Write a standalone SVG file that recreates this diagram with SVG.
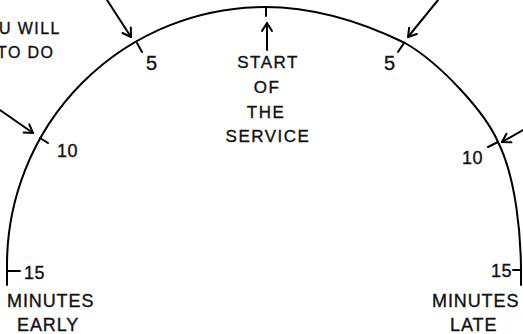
<svg xmlns="http://www.w3.org/2000/svg" width="523" height="334" viewBox="0 0 523 334">
<style>
.ln{fill:none;stroke:#000;stroke-width:2;stroke-linecap:round;stroke-linejoin:round}
.t{font-family:"Liberation Sans","DejaVu Sans",sans-serif;font-size:17px;letter-spacing:1.5px;fill:#111;stroke:#111;stroke-width:0.35}
.b{font-size:18px;letter-spacing:0.9px}
.s{font-size:16px;letter-spacing:1.4px}
.n{font-size:18px;letter-spacing:0.5px}
.f{font-size:20px}
.m{text-anchor:middle}
.e{text-anchor:end}
</style>
<defs>
<marker id="ah" viewBox="-10 -7 12 14" markerWidth="12" markerHeight="14" refX="0" refY="0" orient="auto" markerUnits="userSpaceOnUse">
<path d="M -8 -5 L 0 0 L -8 5" fill="none" stroke="#000" stroke-width="2" stroke-linecap="round" stroke-linejoin="round"/>
</marker>
</defs>
<rect width="523" height="334" fill="#fff"/>
<g id="gauge">
<path class="ln" d="M 7 285 L 7 265 A 258 258 0 0 1 265 7 C 315 7 362 22 405 43 C 440 63 485 112 498 142 C 516 178 521 235 521 272 L 521 285"/>
</g>
<g id="tick-start"><path class="ln" d="M 266 7 L 266 16"/></g>
<g id="tick-early-5"><path class="ln" d="M 137 43 L 142 52"/><text class="t n f" x="146" y="70">5</text></g>
<g id="tick-late-5"><path class="ln" d="M 404 43 L 398 52"/><text class="t n f" x="384" y="70">5</text></g>
<g id="tick-early-10"><path class="ln" d="M 40 138 L 48 143"/><text class="t n" x="57" y="157">10</text></g>
<g id="tick-late-10"><path class="ln" d="M 498 142 L 488 147"/><text class="t n" x="462" y="164">10</text></g>
<g id="tick-early-15"><path class="ln" d="M 7 271 L 20 271"/><text class="t n" x="24" y="279">15</text></g>
<g id="tick-late-15"><path class="ln" d="M 521 270 L 513 270"/><text class="t n e" x="512" y="277">15</text></g>
<g id="label-start">
<text class="t m" x="268" y="68">START</text>
<text class="t m" x="267" y="93">OF</text>
<text class="t m" x="266" y="118">THE</text>
<text class="t m" x="268" y="142">SERVICE</text>
</g>
<g id="label-early">
<text class="t b" x="7" y="307">MINUTES</text>
<text class="t b" x="17" y="331">EARLY</text>
</g>
<g id="label-late">
<text class="t b" x="432" y="307">MINUTES</text>
<text class="t b" x="450" y="331">LATE</text>
</g>
<g id="label-note">
<text class="t s" x="-1" y="34">U WILL</text>
<text class="t s" x="-3" y="58">TO DO</text>
</g>
<g id="connectors">
<path class="ln" d="M 107 0 L 131 37" marker-end="url(#ah)"/>
<path class="ln" d="M 438 0 L 408 37" marker-end="url(#ah)"/>
<path class="ln" d="M 0 110 L 33 133" marker-end="url(#ah)"/>
<path class="ln" d="M 523 130 L 502 142" marker-end="url(#ah)"/>
<path class="ln" d="M 267 50 L 267 23" marker-end="url(#ah)"/>
</g>
</svg>
